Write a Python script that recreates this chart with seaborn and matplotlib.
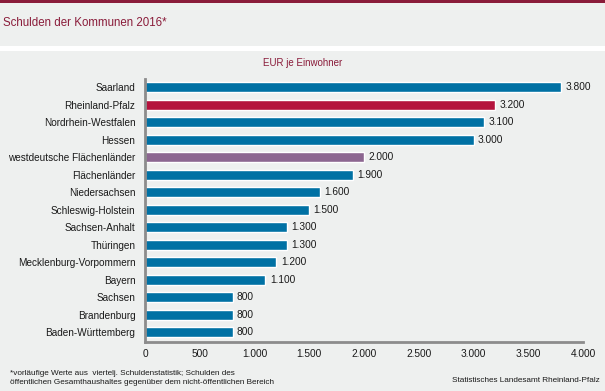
import matplotlib
matplotlib.use("Agg")
import matplotlib.pyplot as plt
import seaborn as sns
import pandas as pd

laender = ['Saarland', 'Rheinland-Pfalz', 'Nordrhein-Westfalen', 'Hessen',
           'westdeutsche Flächenländer', 'Flächenländer', 'Niedersachsen',
           'Schleswig-Holstein', 'Sachsen-Anhalt', 'Thüringen',
           'Mecklenburg-Vorpommern', 'Bayern', 'Sachsen', 'Brandenburg',
           'Baden-Württemberg']
schulden = [3800, 3200, 3100, 3000, 2000, 1900, 1600, 1500, 1300, 1300,
            1200, 1100, 800, 800, 800]
xticks = [0, 500, 1000, 1500, 2000, 2500, 3000, 3500, 4000]

blau = '#0071A4'
farben = {l: blau for l in laender}
farben['Rheinland-Pfalz'] = '#B5133D'
farben['westdeutsche Flächenländer'] = '#8C6690'

df = pd.DataFrame({'Land': laender, 'EUR': schulden})

def fmt(v):
    return f'{v:,.0f}'.replace(',', '.')

sns.set_theme(style="white")
plt.rcParams['font.family'] = ['Liberation Sans', 'DejaVu Sans']
bg = '#EEF0EF'
rot = '#8A1C3A'

fig = plt.figure(figsize=(6.05, 3.91), dpi=100, facecolor=bg)
ax = fig.add_axes([145/605, 1-342/391, 438/605, (342-79)/391], facecolor=bg)

sns.barplot(data=df, y='Land', x='EUR', hue='Land', palette=farben,
            order=laender, width=0.57, legend=False, ax=ax, saturation=1)

for i, v in enumerate(schulden):
    ax.text(v + 40, i, fmt(v), va='center', ha='left', fontsize=7.3, color='#1a1a1a')

ax.set_xlim(0, 4000)
ax.set_ylim(14.57, -0.46)
ax.set_xticks(xticks)
ax.set_xticklabels([fmt(t) for t in xticks], fontsize=7.3, color='#1a1a1a')
ax.tick_params(axis='y', labelsize=7.2, colors='#1a1a1a', length=0, pad=7)
ax.tick_params(axis='x', length=0, pad=5)
ax.set_xlabel('')
ax.set_ylabel('')
for s in ['top', 'right']:
    ax.spines[s].set_visible(False)
for s in ['left', 'bottom']:
    ax.spines[s].set_color('#8C8C8C')
    ax.spines[s].set_linewidth(2)

# top band, title, separator
fig.add_artist(plt.Rectangle((0, 1-2.5/391), 1, 2.5/391, transform=fig.transFigure,
                             color=rot, lw=0))
fig.add_artist(plt.Rectangle((0, 1-51/391), 1, 5/391, transform=fig.transFigure,
                             color='white', lw=0))
fig.text(3/605, 1-23/391, 'Schulden der Kommunen 2016*', fontsize=8.3, color=rot,
         va='center', ha='left')
fig.text(303/605, 1-63/391, 'EUR je Einwohner', fontsize=7, color=rot,
         va='center', ha='center')

fig.text(10/605, 1-378/391,
         '*vorläufige Werte aus  viertelj. Schuldenstatistik; Schulden des\n'
         'öffentlichen Gesamthaushaltes gegenüber dem nicht-öffentlichen Bereich',
         fontsize=5.9, color='#1a1a1a', va='center', ha='left', linespacing=1.25)
fig.text(600/605, 1-381/391, 'Statistisches Landesamt Rheinland-Pfalz',
         fontsize=5.9, color='#1a1a1a', va='center', ha='right')

fig.savefig('out.png', dpi=100, facecolor=bg)
